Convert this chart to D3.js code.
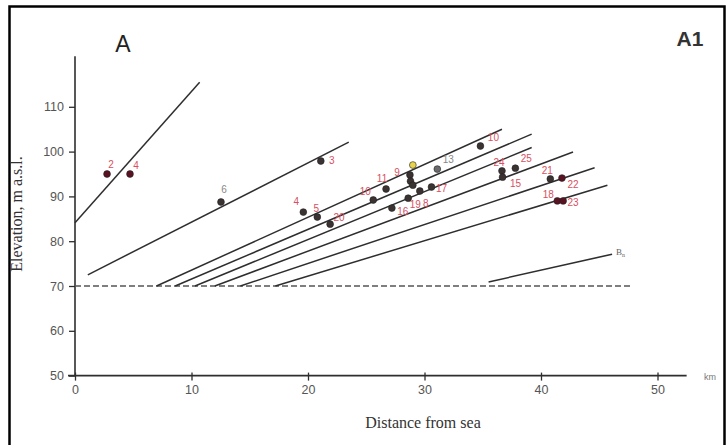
<!DOCTYPE html>
<html><head><meta charset="utf-8">
<script src="https://cdn.jsdelivr.net/npm/d3@7/dist/d3.min.js"></script>
<style>body{margin:0;background:#fff}svg{display:block}</style>
</head><body>
<svg id="c" width="727" height="445"></svg>
<script>
// ---- data ----
const xTicks = [0, 10, 20, 30, 40, 50];
const yTicks = [50, 60, 70, 80, 90, 100, 110];
// terrace lines [x1, y1, x2, y2] (km, m a.s.l.)
const lineA = [0, 84.1, 10.7, 115.5];
const lineB = [1.1, 72.5, 23.5, 102.1];
const fanLines = [
  [7.0, 70, 36.65, 105.0],
  [8.6, 70, 39.2, 103.9],
  [10.3, 70, 39.2, 100.9],
  [12.0, 70, 42.75, 99.9],
  [14.2, 70, 44.6, 96.4],
  [17.2, 70, 45.7, 92.5]
];
const baseLine = [0, 70, 47.8, 70];
const lineBn = [35.5, 70.9, 46.1, 77.1];
// sample points: x (km), y (m), label, kind
const ptX = [2.75, 4.72, 12.53, 21.1, 19.6, 20.8, 21.9, 25.6, 26.7, 27.2, 28.75, 28.8, 29.0, 29.0, 29.6, 28.6, 30.6, 31.1, 34.8, 36.65, 36.7, 37.8, 40.8, 41.8, 41.4, 41.9];
const ptY = [95.0, 95.0, 88.75, 97.9, 86.5, 85.4, 83.8, 89.2, 91.65, 87.4, 94.8, 93.4, 92.5, 97.0, 91.2, 89.6, 92.1, 96.1, 101.25, 95.7, 94.3, 96.3, 93.9, 94.1, 89.0, 89.0];
const ptLabel = ["2", "4", "6", "3", "4", "5", "20", "10", "11", "16", "9", "", "", "", "8", "19", "17", "13", "10", "24", "15", "25", "21", "22", "18", "23"];
const ptKind = ["red", "red", "dark", "dark", "dark", "dark", "dark", "dark", "dark", "dark", "dark", "dark", "dark", "yellow", "dark", "dark", "dark", "grey", "dark", "dark", "dark", "dark", "dark", "red", "red", "red"];
// label offsets [dx, dy] in px
const ptLabOff = [[4,-10],[6,-9],[3,-13],[11,-1],[-7,-11],[-1,-9],[9,-7],[-8,-9],[-4,-11],[11,3],[-13,-3],[0,0],[0,0],[0,0],[6,12],[7,6],[10,1],[11,-10],[13,-9],[-3,-9],[13,6],[11,-10],[-3,-9],[11,6],[-9,-7],[10,1]];

// ---- chart ----
const svg = d3.select("#c");
const x = d3.scaleLinear().domain([0, 50]).range([75, 657.5]);
const y = d3.scaleLinear().domain([50, 110]).range([375.6, 106.8]);
const ink = "#2e2e2e";

// frame
svg.append("rect").attr("x", 9.5).attr("y", 6.5).attr("width", 715).attr("height", 460)
  .attr("fill", "none").attr("stroke", "#000").attr("stroke-width", 2.5);

// axes lines
svg.append("line").attr("x1", x(0)).attr("x2", x(0)).attr("y1", y(50)).attr("y2", y(121.3))
  .attr("stroke", ink).attr("stroke-width", 1.6);
svg.append("line").attr("x1", x(-0.6)).attr("x2", x(52.5)).attr("y1", y(50)).attr("y2", y(50))
  .attr("stroke", ink).attr("stroke-width", 1.6);

// y axis ticks
const yAxis = d3.axisLeft(y).tickValues(yTicks).tickSize(6).tickPadding(5);
const gy = svg.append("g").attr("transform", `translate(${x(0)},0)`).call(yAxis);
gy.select(".domain").remove();
gy.selectAll("line").attr("stroke", ink).attr("stroke-width", 1.3);
gy.selectAll("text").attr("font-family", "Liberation Sans, Arial, sans-serif").attr("font-size", 12.5).attr("fill", "#555");

// x axis ticks
const xAxis = d3.axisBottom(x).tickValues(xTicks).tickSize(8).tickPadding(5);
const gx = svg.append("g").attr("transform", `translate(0,${y(50) - 3})`).call(xAxis);
gx.select(".domain").remove();
gx.selectAll("line").attr("stroke", ink).attr("stroke-width", 1.3);
gx.selectAll("text").attr("font-family", "Liberation Sans, Arial, sans-serif").attr("font-size", 12.5).attr("fill", "#555");

svg.append("text").attr("x", x(54)).attr("y", y(50) + 4).text("km")
  .attr("font-family", "Liberation Sans, Arial, sans-serif").attr("font-size", 9).attr("fill", "#777");

// axis titles
svg.append("text").attr("transform", `translate(22,214) rotate(-90)`).attr("text-anchor", "middle")
  .attr("font-family", "Liberation Serif, Times New Roman, serif").attr("font-size", 16).attr("fill", "#333")
  .text("Elevation, m a.s.l.");
svg.append("text").attr("x", 423).attr("y", 428).attr("text-anchor", "middle")
  .attr("font-family", "Liberation Serif, Times New Roman, serif").attr("font-size", 16).attr("fill", "#333")
  .text("Distance from sea");

// panel labels
svg.append("text").attr("x", 123).attr("y", 52).attr("text-anchor", "middle")
  .attr("font-family", "Liberation Sans, Arial, sans-serif").attr("font-size", 23).attr("fill", "#222").text("A");
svg.append("text").attr("x", 690).attr("y", 46).attr("text-anchor", "middle")
  .attr("font-family", "Liberation Sans, Arial, sans-serif").attr("font-size", 21).attr("font-weight", "bold").attr("fill", "#333").text("A1");

// dashed base line
svg.append("line").attr("x1", x(baseLine[0])).attr("y1", y(baseLine[1]))
  .attr("x2", x(baseLine[2])).attr("y2", y(baseLine[3]))
  .attr("stroke", "#555").attr("stroke-width", 1.5).attr("stroke-dasharray", "6,3");

// solid terrace lines
const solid = [lineA, lineB, ...fanLines, lineBn];
svg.append("g").selectAll("line").data(solid).join("line")
  .attr("x1", d => x(d[0])).attr("y1", d => y(d[1]))
  .attr("x2", d => x(d[2])).attr("y2", d => y(d[3]))
  .attr("stroke", ink).attr("stroke-width", 1.5);

// Bn label
const bn = svg.append("text").attr("x", x(lineBn[2]) + 4).attr("y", y(lineBn[3]) + 1)
  .attr("font-family", "Liberation Serif, serif").attr("font-size", 9).attr("fill", "#666");
bn.append("tspan").text("B");
bn.append("tspan").attr("font-size", 6).attr("dy", 2).text("n");

// points
const pts = ptX.map((v, i) => ({x: v, y: ptY[i], l: ptLabel[i], k: ptKind[i], o: ptLabOff[i]}));
const fillOf = {red: "#5a1222", dark: "#3b3232", grey: "#6a6a6a", yellow: "#e8d44a"};
svg.append("g").selectAll("circle").data(pts).join("circle")
  .attr("cx", d => x(d.x)).attr("cy", d => y(d.y)).attr("r", 3.4)
  .attr("fill", d => fillOf[d.k]).attr("stroke", "#222").attr("stroke-width", 0.6);
svg.append("g").selectAll("text").data(pts.filter(d => d.l)).join("text")
  .attr("x", d => x(d.x) + d.o[0]).attr("y", d => y(d.y) + d.o[1] + 4).attr("text-anchor", "middle")
  .attr("font-family", "Liberation Sans, Arial, sans-serif").attr("font-size", 10)
  .attr("fill", d => (d.k === "grey" || d.l === "6") ? "#888" : "#d8505f")
  .text(d => d.l);
</script>
</body></html>
